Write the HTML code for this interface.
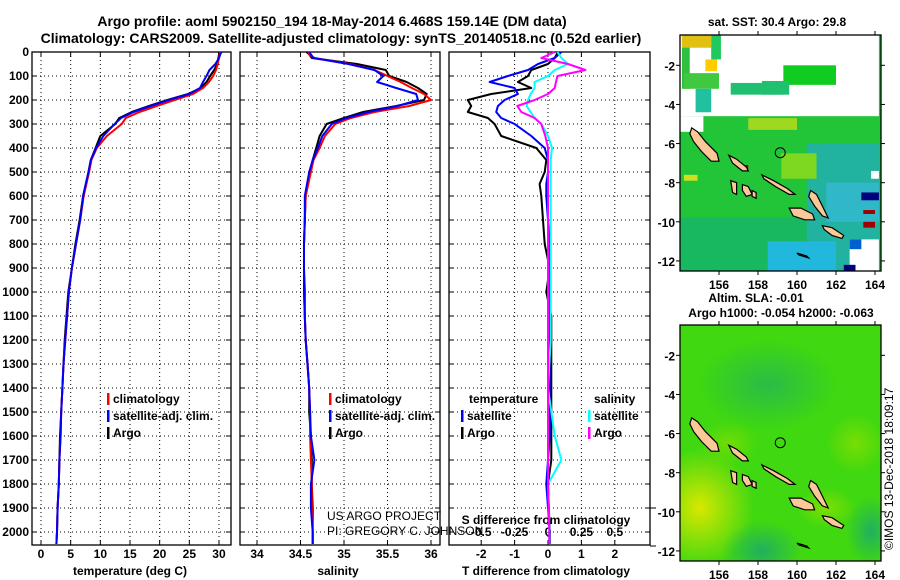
<!DOCTYPE html>
<html><head><meta charset="utf-8"><title>Argo profile</title>
<style>
html,body{margin:0;padding:0;background:#fff;}
svg{display:block;font-family:"Liberation Sans",Arial,sans-serif;}
.b{font-weight:bold;}
</style></head>
<body>
<svg id="fig" width="900" height="580" viewBox="0 0 900 580" xmlns="http://www.w3.org/2000/svg">
<rect x="0" y="0" width="900" height="580" fill="#fff"/>
<text x="332" y="26" text-anchor="middle" class="b" font-size="14">Argo profile: aoml 5902150_194 18-May-2014 6.468S 159.14E (DM data)</text>
<text x="341" y="43" text-anchor="middle" class="b" font-size="14">Climatology: CARS2009. Satellite-adjusted climatology: synTS_20140518.nc (0.52d earlier)</text>
<g id="panels"></g>
<g id="maps"></g>
<text x="327" y="520" font-size="12">US ARGO PROJECT</text>
<text x="327" y="535" font-size="12">PI: GREGORY C. JOHNSON</text>
<text transform="translate(893,550) rotate(-90)" font-size="12">©IMOS 13-Dec-2018 18:09:17</text>
</svg>
<script>
// ---------- profile data ----------
const depths = [0,10,25,50,75,100,125,150,175,200,225,250,275,300,350,400,450,500,600,700,800,900,1000,1100,1200,1300,1400,1500,1600,1700,1800,1900,2000,2050];
const tempClim = [30.2,30.1,30.0,29.8,29.5,29.0,28.3,27.3,25.6,22.5,19.5,16.6,14.3,13.6,11.1,9.4,8.5,8.1,7.2,6.6,5.9,5.2,4.7,4.4,4.1,3.8,3.6,3.4,3.3,3.1,3.0,2.8,2.7,2.6];
const tempArgo = [30.0,30.0,29.9,29.7,29.2,28.5,27.9,26.9,24.8,21.3,18.2,15.3,13.2,12.5,10.0,9.2,8.4,8.0,7.1,6.5,5.8,5.2,4.6,4.3,4.0,3.8,3.6,3.4,3.2,3.1,3.0,2.8,2.7,2.6];
const tempSat = [30.4,30.2,30.0,29.4,28.4,27.9,27.3,26.8,25.0,21.5,18.5,15.6,13.5,12.4,10.5,9.3,8.4,8.0,7.1,6.6,5.9,5.2,4.7,4.4,4.1,3.8,3.6,3.4,3.3,3.1,3.0,2.8,2.7,2.6];
const salClim = [34.59,34.60,34.66,35.07,35.35,35.50,35.65,35.78,35.92,36.00,35.75,35.35,35.08,34.90,34.78,34.72,34.65,34.62,34.56,34.55,34.54,34.54,34.54,34.55,34.56,34.58,34.60,34.61,34.61,34.62,34.63,34.63,34.64,34.64];
const salArgo = [34.57,34.60,34.63,35.15,35.48,35.52,35.72,35.85,35.95,35.92,35.60,35.22,35.00,34.80,34.72,34.68,34.64,34.61,34.56,34.55,34.54,34.54,34.55,34.55,34.56,34.58,34.60,34.60,34.62,34.63,34.63,34.64,34.64,34.64];
const salSat = [34.60,34.62,34.65,35.05,35.35,35.45,35.38,35.60,35.83,35.85,35.62,35.28,35.03,34.86,34.75,34.70,34.64,34.60,34.55,34.55,34.54,34.54,34.54,34.55,34.56,34.58,34.60,34.61,34.62,34.66,34.62,34.62,34.64,34.64];
const diffDepths = [0,25,50,75,100,125,150,175,200,225,250,275,300,350,400,450,500,550,600,700,800,900,1000,1100,1200,1400,1600,1700,1800,2000,2050];
const tDiffSat = [0.4,0.2,-0.3,-0.6,-1.2,-1.75,-1.0,-0.9,-1.3,-1.5,-1.55,-1.4,-1.0,-0.5,-0.1,0,0,-0.05,-0.05,0,0.05,0.05,0.05,0.05,0.05,0.05,0.05,0,-0.05,0.05,0.05];
const tDiffArgo = [0.3,0.2,0,-0.5,-0.6,-0.9,-0.5,-1.7,-2.4,-2.3,-2.4,-1.8,-1.6,-1.4,-0.35,-0.05,-0.1,-0.25,-0.2,-0.15,-0.1,0.05,-0.05,0.1,0.1,0.1,0.1,0.1,0,0.05,0.05];
const sDiffSat = [0.07,0.1,0.15,0.05,0,-0.1,-0.1,-0.13,-0.15,-0.16,-0.13,-0.1,-0.05,0,0.03,0.02,0.02,0.02,0.02,0.02,0.02,0.02,0.02,0.02,0.02,0,0.05,0.1,0,0.01,0.01];
const sDiffArgo = [0.05,-0.05,0.15,0.28,0.07,0.06,0.05,0,-0.1,-0.23,-0.2,-0.1,-0.05,-0.02,0,0,0,0,0,0,0,0,0,0,0,0,0,0,0,0.01,0.01];
const depthTicks = [0,100,200,300,400,500,600,700,800,900,1000,1100,1200,1300,1400,1500,1600,1700,1800,1900,2000];
const tempTicks = [0,5,10,15,20,25,30];
const salTicks = [34,34.5,35,35.5,36];
const tDiffTicks = [-2,-1,0,1,2];
const sDiffTicks = [-0.5,-0.25,0,0.25,0.5];

const NS = 'http://www.w3.org/2000/svg';
function mk(tag, attrs, parent){ const e=document.createElementNS(NS,tag); for(const k in attrs) e.setAttribute(k,attrs[k]); parent.appendChild(e); return e; }
const P = document.getElementById('panels');
const TOP=52, BOT=545;
const yD = d => TOP + 0.24*d;
const xT = v => 41 + 5.933*v;
const xS = v => 257 + 87*(v-34);
const xTd = v => 548 + 33.4*v;
const xSd = v => 548 + 133.6*v;

const panels = [{l:32,r:231,name:'temperature'},{l:240,r:440,name:'salinity'},{l:449,r:650,name:'difference'}];

function grid(panel, xs, ticksVals, labelFn, tickLabelY, gname){
  const g = mk('g',{},P);
  
  
  xs.forEach((x,i)=>{
    const ln = mk('line',{x1:x,x2:x,y1:TOP,y2:BOT,stroke:'#000','stroke-width':1,'stroke-dasharray':'1,3'},g);
    
    
    mk('line',{x1:x,x2:x,y1:BOT,y2:BOT-5,stroke:'#000'},g);
    mk('line',{x1:x,x2:x,y1:TOP,y2:TOP+5,stroke:'#000'},g);
    if(labelFn){
      const t = mk('text',{x:x,y:tickLabelY,'text-anchor':'middle','font-size':12,'font-weight':'bold'},g);
      
      
      t.textContent = labelFn(ticksVals[i]);
    }
  });
  depthTicks.forEach(d=>{
    const y=yD(d);
    const ln = mk('line',{x1:panel.l,x2:panel.r,y1:y,y2:y,stroke:'#000','stroke-dasharray':'1,3'},g);
    
    
    mk('line',{x1:panel.l,x2:panel.l+5,y1:y,y2:y,stroke:'#000'},g);
    mk('line',{x1:panel.r-5,x2:panel.r,y1:y,y2:y,stroke:'#000'},g);
  });
  const box = mk('rect',{x:panel.l,y:TOP,width:panel.r-panel.l,height:BOT-TOP,fill:'none',stroke:'#000','stroke-width':1.3},g);
  
  
}
grid(panels[0], tempTicks.map(xT), tempTicks, v=>String(v), 558, 'temperature-axis');
grid(panels[1], salTicks.map(xS), salTicks, v=>String(v), 558, 'salinity-axis');
grid(panels[2], tDiffTicks.map(xTd), tDiffTicks, v=>String(v), 558, 'tdiff-axis');

depthTicks.forEach(d=>{
  const t = mk('text',{x:29,y:yD(d)+4,'text-anchor':'end','font-size':12,'font-weight':'bold'},P);
  
  
  t.textContent = d;
});
sDiffTicks.forEach(v=>{
  const t = mk('text',{x:xSd(v),y:536,'text-anchor':'middle','font-size':12,'font-weight':'bold'},P);
  
  
  t.textContent = String(v);
});
mk('line',{x1:650,x2:656,y1:508,y2:508,stroke:'#000'},P);
mk('line',{x1:650,x2:656,y1:546,y2:546,stroke:'#000'},P);

function axTitle(x,txt,name,y){
  const t = mk('text',{x:x,y:y||575,'text-anchor':'middle','font-size':12,'font-weight':'bold'},P);
  
  
  t.textContent = txt;
}
axTitle(130,'temperature (deg C)','temperature-axis-title');
axTitle(338,'salinity','salinity-axis-title');
axTitle(546,'T difference from climatology','tdiff-axis-title');
axTitle(546,'S difference from climatology','sdiff-axis-title',524);

function line(ds, vals, xf, color, name, w){
  const pts = ds.map((d,i)=>xf(vals[i]).toFixed(1)+','+yD(d).toFixed(1)).join(' ');
  const pl = mk('polyline',{points:pts,fill:'none',stroke:color,'stroke-width':w||2,'stroke-linejoin':'round'},P);
  
  
}
line(depths,tempArgo,xT,'#000','temperature-argo-line');
line(depths,tempClim,xT,'#f00','temperature-climatology-line');
line(depths,tempSat,xT,'#00f','temperature-satellite-line');
line(depths,salArgo,xS,'#000','salinity-argo-line');
line(depths,salClim,xS,'#f00','salinity-climatology-line');
line(depths,salSat,xS,'#00f','salinity-satellite-line');
line(diffDepths,tDiffArgo,xTd,'#000','tdiff-argo-line');
line(diffDepths,tDiffSat,xTd,'#00f','tdiff-satellite-line');
line(diffDepths,sDiffSat,xSd,'#0ff','sdiff-satellite-line');
line(diffDepths,sDiffArgo,xSd,'#f0f','sdiff-argo-line');

function legend(x,y,color,txt,name){
  mk('rect',{x:x,y:y-10,width:2.5,height:12,fill:color},P);
  const t = mk('text',{x:x+6,y:y,'font-size':12,'font-weight':'bold'},P);
  
  
  t.textContent = txt;
}
legend(107,403,'#f00','climatology','legend-temp-climatology');
legend(107,420,'#00f','satellite-adj. clim.','legend-temp-satellite');
legend(107,437,'#000','Argo','legend-temp-argo');
legend(329,403,'#f00','climatology','legend-sal-climatology');
legend(329,420,'#00f','satellite-adj. clim.','legend-sal-satellite');
legend(329,437,'#000','Argo','legend-sal-argo');
(function(){
  const t = mk('text',{x:469,y:403,'font-size':12,'font-weight':'bold'},P);
  
  
  t.textContent='temperature';
  const s = mk('text',{x:594,y:403,'font-size':12,'font-weight':'bold'},P);
  
  
  s.textContent='salinity';
})();
legend(461,420,'#00f','satellite','legend-tdiff-satellite');
legend(461,437,'#000','Argo','legend-tdiff-argo');
legend(588,420,'#0ff','satellite','legend-sdiff-satellite');
legend(588,437,'#f0f','Argo','legend-sdiff-argo');

// ---------- maps ----------
const M = document.getElementById('maps');
const lonTicks=[156,158,160,162,164];
const latTicks=[-2,-4,-6,-8,-10,-12];
const MX0=680, MX1=881;
const lx = lon => MX0 + (lon-154)*19.5;
const ly = (lat,y0) => y0 + (-0.45-lat)*19.56;
const islands = [
 [[154.6,-5.2],[154.9,-5.4],[155.3,-5.9],[155.9,-6.5],[156.0,-6.9],[155.6,-6.9],[155.1,-6.4],[154.7,-5.9],[154.5,-5.5]],
 [[156.5,-6.6],[156.9,-6.8],[157.4,-7.2],[157.5,-7.4],[157.2,-7.4],[156.7,-7.0]],
 [[158.2,-7.6],[158.8,-7.9],[159.5,-8.3],[159.9,-8.6],[159.6,-8.6],[158.9,-8.2],[158.3,-7.8]],
 [[160.7,-8.4],[161.0,-8.6],[161.3,-9.2],[161.6,-9.8],[161.3,-9.7],[160.9,-9.2],[160.6,-8.7]],
 [[159.6,-9.3],[160.2,-9.3],[160.8,-9.6],[160.9,-9.9],[160.4,-9.9],[159.8,-9.7]],
 [[161.3,-10.2],[161.8,-10.3],[162.4,-10.7],[162.3,-10.85],[161.8,-10.7],[161.4,-10.4]],
 [[156.6,-7.9],[156.9,-8.0],[156.9,-8.6],[156.7,-8.5]],
 [[157.2,-8.1],[157.5,-8.2],[157.7,-8.6],[157.4,-8.7],[157.2,-8.4]],
 [[157.7,-8.4],[157.9,-8.5],[157.9,-8.8],[157.7,-8.7]],
 [[160.0,-11.6],[160.5,-11.75],[160.6,-11.85],[160.1,-11.7]]
];
const sstPatches = [
 [154,-9.8,164.2,-12.5,'#18b860'],
 [160.5,-6,164.2,-12.5,'#22b2a0'],
 [158.5,-11,162,-12.5,'#22b8dd'],
 [161.5,-8,164.2,-10,'#30b8c8'],
 [159.2,-6.5,161,-7.8,'#7ed820'],
 [157.5,-4.7,160,-5.3,'#a0d820'],
 [154,-0.45,164.2,-4.6,'#ffffff'],
 [154.1,-0.45,154.5,-3.2,'#30c040'],
 [154.1,-0.45,155.6,-1.1,'#e0c010'],
 [155.6,-0.45,156.1,-1.7,'#20c860'],
 [155.3,-1.7,155.9,-2.3,'#ffcc00'],
 [154.2,-2.4,156,-3.2,'#40c840'],
 [154.8,-3.2,155.6,-4.4,'#20c0a0'],
 [156.6,-2.9,159.3,-3.5,'#20c070'],
 [159.3,-2.0,162,-3.0,'#10cc20'],
 [158.2,-2.8,159.6,-3.5,'#20c070'],
 [154,-4.6,155.2,-5.4,'#ffffff'],
 [163.8,-7.4,164.2,-7.8,'#ffffff'],
 [162.7,-10.9,164.2,-12.5,'#ffffff'],
 [162.7,-10.9,163.3,-11.4,'#0060d0'],
 [162.4,-12.2,163.0,-12.5,'#000080'],
 [163.3,-8.5,164.2,-8.9,'#000080'],
 [163.4,-10.0,164.0,-10.3,'#a00000'],
 [163.4,-9.4,164.0,-9.6,'#a00000'],
 [157.0,-7.1,157.5,-7.3,'#a00000'],
 [154.2,-7.6,154.9,-7.9,'#d0e020']
];
function drawMap(y0, yb, name, mode){
  const g = mk('g',{},M);
  
  
  const defs = mk('defs',{},g);
  const cp = mk('clipPath',{id:'clip-'+mode},defs);
  mk('rect',{x:MX0,y:y0,width:MX1-MX0,height:yb-y0},cp);
  const inner = mk('g',{'clip-path':'url(#clip-'+mode+')'},g);
  if(mode==='sst'){
    mk('rect',{x:MX0,y:y0,width:MX1-MX0,height:yb-y0,fill:'#22c438'},inner);
    sstPatches.forEach(p=>{
      const r = mk('rect',{x:lx(p[0]),y:ly(p[1],y0),width:lx(p[2])-lx(p[0]),height:ly(p[3],y0)-ly(p[1],y0),fill:p[4]},inner);
      
      
    });
  } else {
    const mkRad=(id,c)=>{const rg=mk('radialGradient',{id:id},defs);mk('stop',{offset:'0','stop-color':c,'stop-opacity':1},rg);mk('stop',{offset:'1','stop-color':c,'stop-opacity':0},rg);};
    mkRad('gy','#d8e800'); mkRad('gt','#20b060'); mkRad('gl','#90e000');
    mk('rect',{x:MX0,y:y0,width:MX1-MX0,height:yb-y0,fill:'#40d810'},inner);
    mk('ellipse',{cx:lx(155),cy:ly(-9.8,y0),rx:55,ry:60,fill:'url(#gy)'},inner);
    mk('ellipse',{cx:lx(158.5),cy:ly(-3.5,y0),rx:70,ry:45,fill:'url(#gt)','opacity':0.7},inner);
    mk('ellipse',{cx:lx(158.2),cy:ly(-12,y0),rx:40,ry:30,fill:'url(#gt)'},inner);
    mk('ellipse',{cx:lx(163.8),cy:ly(-11,y0),rx:25,ry:35,fill:'url(#gt)'},inner);
    mk('ellipse',{cx:lx(163),cy:ly(-6.5,y0),rx:30,ry:30,fill:'url(#gl)',opacity:0.7},inner);
    mk('ellipse',{cx:lx(161.5),cy:ly(-9.8,y0),rx:30,ry:20,fill:'url(#gl)',opacity:0.8},inner);
    mk('ellipse',{cx:lx(156.5),cy:ly(-6.5,y0),rx:30,ry:22,fill:'url(#gl)',opacity:0.6},inner);
  }
  islands.forEach(isl=>{
    const pg = mk('polygon',{points:isl.map(p=>lx(p[0]).toFixed(1)+','+ly(p[1],y0).toFixed(1)).join(' '),fill:'#fcc898',stroke:'#000','stroke-width':1.2},inner);
    
    
  });
  const c = mk('circle',{cx:lx(159.14),cy:ly(-6.468,y0),r:5,fill:'none',stroke:'#000','stroke-width':1},g);
  
  
  mk('rect',{x:MX0,y:y0,width:MX1-MX0,height:yb-y0,fill:'none',stroke:'#000','stroke-width':1.3},g);
  lonTicks.forEach(v=>{
    const x=lx(v);
    mk('line',{x1:x,x2:x,y1:y0,y2:y0-4,stroke:'#000'},g);
    mk('line',{x1:x,x2:x,y1:yb,y2:yb+4,stroke:'#000'},g);
    const t = mk('text',{x:x,y:yb+18,'text-anchor':'middle','font-size':12,'font-weight':'bold'},g);
    
    
    t.textContent=v;
  });
  latTicks.forEach(v=>{
    const y=ly(v,y0);
    mk('line',{x1:MX0,x2:MX0-4,y1:y,y2:y,stroke:'#000'},g);
    mk('line',{x1:MX1,x2:MX1+4,y1:y,y2:y,stroke:'#000'},g);
    const t = mk('text',{x:675,y:y+5,'text-anchor':'end','font-size':12,'font-weight':'bold'},g);
    
    
    t.textContent=v;
  });
}
drawMap(35,271,'sst-map','sst');
drawMap(325,561,'sla-map','sla');
function mt(x,y,txt,name){
  const t = mk('text',{x:x,y:y,'text-anchor':'middle','font-size':12,'font-weight':'bold'},M);
  
  
  t.textContent=txt;
}
mt(777,26,'sat. SST: 30.4 Argo: 29.8','sst-map-title');
mt(756,302,'Altim. SLA: -0.01','sla-map-title');
mt(781,317,'Argo h1000: -0.054 h2000: -0.063','argo-height-title');
</script>
</body></html>
